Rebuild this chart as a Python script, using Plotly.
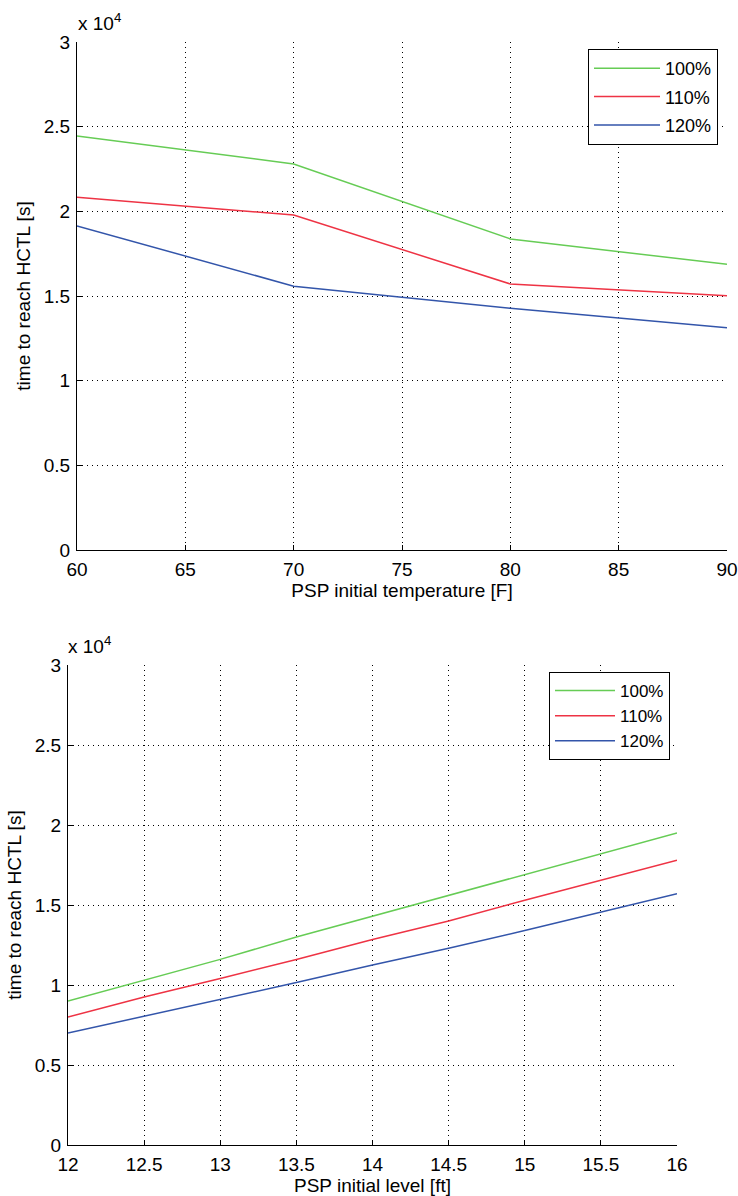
import plotly.graph_objects as go

# ---- data (time to reach HCTL, seconds) ----
temp_x = [60, 70, 80, 90]
temp_100 = [24450, 22800, 18370, 16870]
temp_110 = [20830, 19780, 15710, 15020]
temp_120 = [19140, 15580, 14270, 13130]

level_x = [12, 12.5, 13, 13.5, 14, 14.5, 15, 15.5, 16]
level_100 = [9000, 10300, 11600, 13000, 14300, 15600, 16900, 18200, 19500]
level_110 = [8000, 9250, 10400, 11600, 12850, 14000, 15300, 16550, 17800]
level_120 = [7000, 8050, 9100, 10150, 11250, 12300, 13400, 14550, 15700]

series_names = ["100%", "110%", "120%"]
colors = ["#66cc55", "#ee3344", "#3355aa"]

y_ticks = [0, 5000, 10000, 15000, 20000, 25000, 30000]
y_tick_text = ["0", "0.5", "1", "1.5", "2", "2.5", "3"]
x1_ticks = [60, 65, 70, 75, 80, 85, 90]
x2_ticks = [12, 12.5, 13, 13.5, 14, 14.5, 15, 15.5, 16]
x2_tick_text = ["12", "12.5", "13", "13.5", "14", "14.5", "15", "15.5", "16"]

W, H = 738, 1196
FONT = "Liberation Sans, Arial, sans-serif"
FS = 19

def px(x):
    return x / W

def py(y):
    return 1 - y / H

fig = go.Figure()
for name, col, ys in zip(series_names, colors, [temp_100, temp_110, temp_120]):
    fig.add_trace(go.Scatter(x=temp_x, y=ys, mode="lines", name=name,
                             line=dict(color=col, width=1.5),
                             xaxis="x", yaxis="y", legend="legend",
                             legendgroup="a" + name))
for name, col, ys in zip(series_names, colors, [level_100, level_110, level_120]):
    fig.add_trace(go.Scatter(x=level_x, y=ys, mode="lines", name=name,
                             line=dict(color=col, width=1.5),
                             xaxis="x2", yaxis="y2", legend="legend2",
                             legendgroup="b" + name))

axis_common = dict(
    showline=True, linecolor="black", linewidth=1,
    ticks="inside", ticklen=5, tickcolor="black", tickwidth=1,
    showgrid=True, gridcolor="black", gridwidth=1, griddash="1px,4px",
    zeroline=False, mirror=False, automargin=False,
    tickfont=dict(family=FONT, size=FS, color="black"),
    title_font=dict(family=FONT, size=FS, color="black"),
)

fig.update_layout(
    width=W, height=H,
    margin=dict(l=0, r=0, t=0, b=0),
    paper_bgcolor="white", plot_bgcolor="white",
    font=dict(family=FONT, size=FS, color="black"),
    xaxis=dict(axis_common, domain=[px(77), px(727)], anchor="y",
               range=[60, 90], tickvals=x1_ticks, ticklabelstandoff=2,
               title=dict(text="PSP initial temperature [F]", standoff=4)),
    yaxis=dict(axis_common, domain=[py(550), py(42)], anchor="x",
               range=[0, 30000], tickvals=y_ticks, ticktext=y_tick_text,
               ticklabelstandoff=2,
               title=dict(text="time to reach HCTL [s]", standoff=8)),
    xaxis2=dict(axis_common, domain=[px(68), px(677)], anchor="y2",
                range=[12, 16], tickvals=x2_ticks, ticktext=x2_tick_text,
                ticklabelstandoff=2,
                title=dict(text="PSP initial level [ft]", standoff=4)),
    yaxis2=dict(axis_common, domain=[py(1145), py(665)], anchor="x2",
                range=[0, 30000], tickvals=y_ticks, ticktext=y_tick_text,
                ticklabelstandoff=2,
                title=dict(text="time to reach HCTL [s]", standoff=8)),
    legend=dict(x=px(718), y=py(49), xanchor="right", yanchor="top",
                bgcolor="white", bordercolor="black", borderwidth=1,
                font=dict(family=FONT, size=18, color="black"),
                tracegroupgap=2, itemwidth=66),
    legend2=dict(x=px(670), y=py(672), xanchor="right", yanchor="top",
                 bgcolor="white", bordercolor="black", borderwidth=1,
                 font=dict(family=FONT, size=17, color="black"),
                 tracegroupgap=0, itemwidth=60),
    showlegend=True,
    annotations=[
        dict(text="x 10<sup>4</sup>", xref="paper", yref="paper",
             x=px(76), y=py(36), xanchor="left", yanchor="bottom",
             showarrow=False, font=dict(family=FONT, size=FS, color="black")),
        dict(text="x 10<sup>4</sup>", xref="paper", yref="paper",
             x=px(66), y=py(659), xanchor="left", yanchor="bottom",
             showarrow=False, font=dict(family=FONT, size=FS, color="black")),
    ],
)

fig.write_html("out.html", config={"displayModeBar": False},
               post_script="document.body.style.margin='0';")
